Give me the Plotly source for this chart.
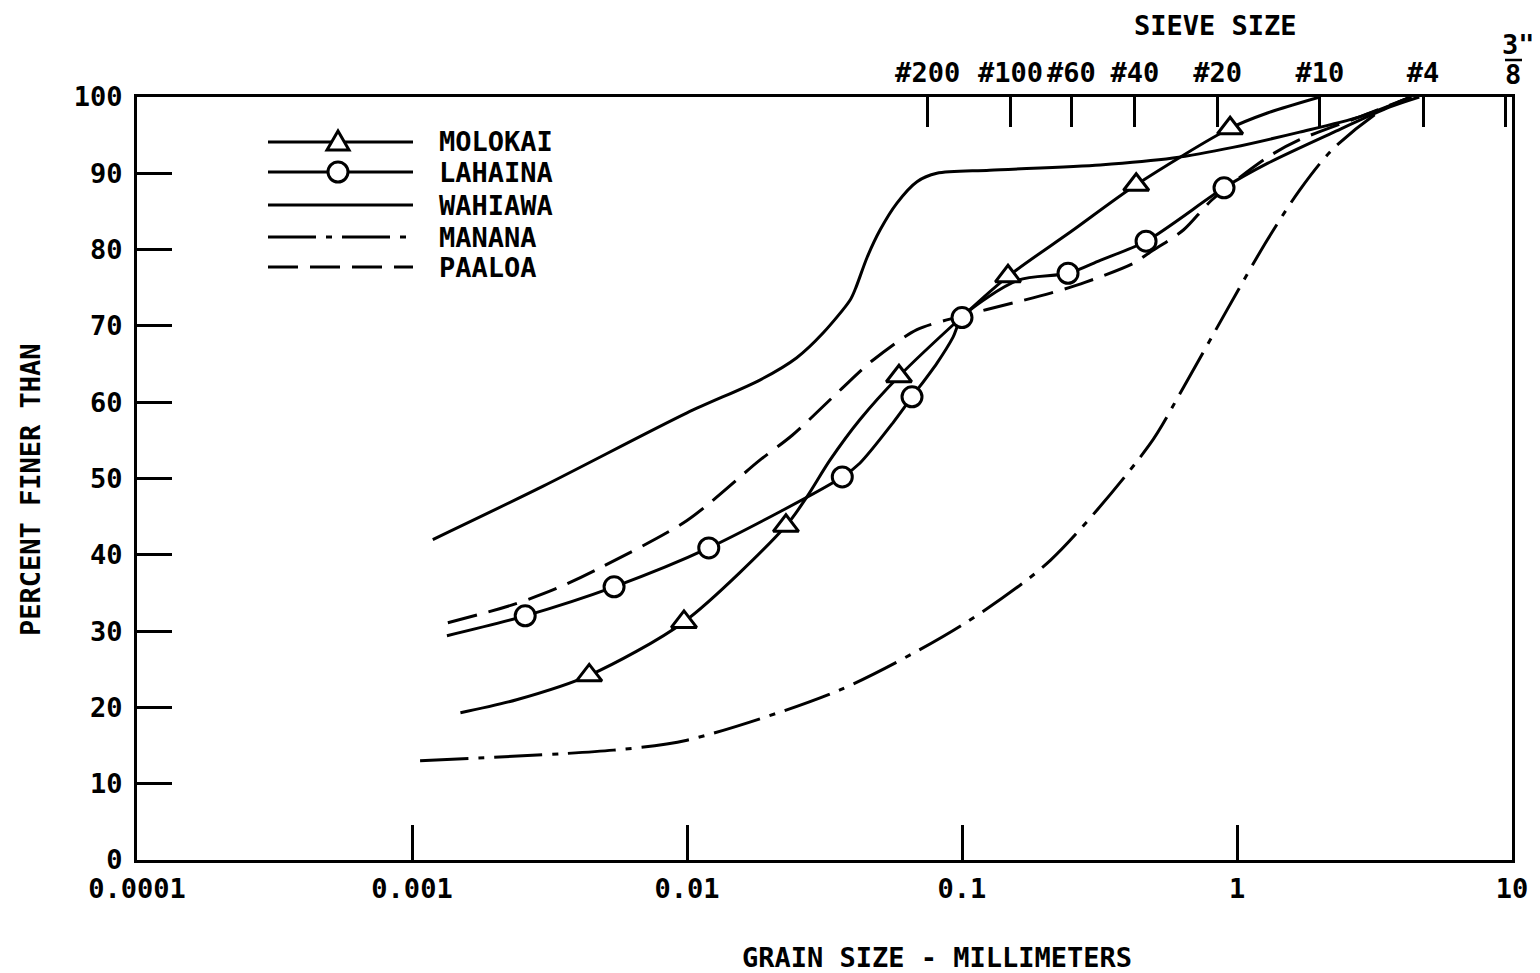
import plotly.graph_objects as go

# ---------------- data (grain size in mm, percent finer) ----------------
molokai_x = [0.0015, 0.0024, 0.00441, 0.00975, 0.0229, 0.0273, 0.0331, 0.0425, 0.059, 0.1, 0.147, 0.25, 0.43, 0.944, 1.29, 2.0]
molokai_y = [19.3, 21.0, 24.2, 31.2, 43.8, 47.6, 52.4, 57.7, 63.4, 71.2, 76.5, 82.4, 88.5, 95.9, 97.9, 100]
molokai_mx = [0.00441, 0.00975, 0.0229, 0.059, 0.147, 0.43, 0.944]
molokai_my = [24.2, 31.2, 43.8, 63.4, 76.5, 88.5, 95.9]

lahaina_x = [0.00134, 0.00258, 0.00543, 0.0120, 0.0367, 0.0425, 0.0561, 0.0658, 0.081, 0.0927, 0.1, 0.16, 0.243, 0.318, 0.467, 0.897, 1.29, 2.22, 3.6, 4.6]
lahaina_y = [29.4, 32.0, 35.8, 40.9, 50.2, 52.0, 57.3, 60.7, 65.1, 68.5, 71.1, 76.0, 76.9, 78.6, 81.1, 88.1, 91.3, 95.3, 98.7, 100]
lahaina_mx = [0.00258, 0.00543, 0.0120, 0.0367, 0.0658, 0.1, 0.243, 0.467, 0.897]
lahaina_my = [32.0, 35.8, 40.9, 50.2, 60.7, 71.1, 76.9, 81.1, 88.1]

wahiawa_x = [0.00119, 0.003, 0.01, 0.0184, 0.025, 0.0313, 0.0392, 0.041, 0.0452, 0.0504, 0.058, 0.0686, 0.081, 0.126, 0.318, 0.585, 0.966, 1.69, 2.79, 4.3]
wahiawa_y = [42.0, 49.0, 58.6, 62.9, 65.8, 69.1, 73.4, 74.9, 79.0, 82.6, 86.1, 88.9, 90.0, 90.4, 91.1, 92.0, 93.4, 95.4, 97.4, 100]

manana_x = [0.00107, 0.0054, 0.01, 0.036, 0.1, 0.21, 0.48, 0.64, 0.92, 1.29, 1.69, 2.22, 3.36, 4.3]
manana_y = [13.0, 14.4, 15.7, 22.3, 30.8, 39.3, 54.4, 62.0, 72.1, 81.3, 87.8, 93.1, 98.3, 100]

paaloa_x = [0.00135, 0.0023, 0.00336, 0.00483, 0.01, 0.0184, 0.0242, 0.0361, 0.0474, 0.0686, 0.1, 0.153, 0.21, 0.28, 0.42, 0.48, 0.64, 0.81, 1.29, 1.69, 2.79, 4.3]
paaloa_y = [31.1, 33.4, 35.6, 38.3, 44.5, 52.4, 55.7, 61.6, 65.5, 69.5, 71.3, 73.0, 74.3, 75.7, 78.2, 79.6, 82.6, 86.5, 92.1, 94.4, 97.4, 100]

x_tickvals = [0.0001, 0.001, 0.01, 0.1, 1, 10]
x_ticktext = ["0.0001", "0.001", "0.01", "0.1", "1", "10"]
y_tickvals = [0, 10, 20, 30, 40, 50, 60, 70, 80, 90, 100]
sieve_mm = [0.075, 0.15, 0.25, 0.425, 0.85, 2.0, 4.75, 9.5]
sieve_text = ["#200", "#100", "#60", "#40", "#20", "#10", "#4", ""]

legend_names = ["MOLOKAI", "LAHAINA", "WAHIAWA", "MANANA", "PAALOA"]

# ---------------- styling ----------------
FONT = "DejaVu Sans Mono, Liberation Mono, monospace"
FS = 27
LW = 3
OFF = 8                      # default page body margin
W, H = 1540 - OFF, 973 - OFF
PL, PT, PWID, PHGT = 137, 97, 1375, 763   # plot area in page pixels
ML, MT = PL - OFF, PT - OFF
MR = W - ML - PWID
MB = H - MT - PHGT

def px(xp):
    return (xp - PL) / PWID

def py(yp):
    return (PT + PHGT - yp) / PHGT

dash_manana = "48px,10px,6px,10px"
dash_paaloa = "30px,12px"

fig = go.Figure()

def curve(x, y, dash="solid"):
    fig.add_trace(go.Scatter(x=x, y=y, mode="lines", line=dict(color="black", width=LW, dash=dash,
                                                               shape="spline", smoothing=0.8),
                             showlegend=False, hoverinfo="skip"))

curve(wahiawa_x, wahiawa_y)
curve(manana_x, manana_y, dash_manana)
curve(paaloa_x, paaloa_y, dash_paaloa)
curve(lahaina_x, lahaina_y)
curve(molokai_x, molokai_y)

fig.add_trace(go.Scatter(x=lahaina_mx, y=lahaina_my, mode="markers",
                         marker=dict(symbol="circle", size=20, color="white",
                                     line=dict(color="black", width=3)),
                         showlegend=False, hoverinfo="skip"))
fig.add_trace(go.Scatter(x=molokai_mx, y=molokai_my, mode="markers",
                         marker=dict(symbol="triangle-up", size=22, color="white",
                                     line=dict(color="black", width=3)),
                         showlegend=False, hoverinfo="skip"))

# dummy trace to anchor the top sieve axis
fig.add_trace(go.Scatter(x=sieve_mm, y=[None] * len(sieve_mm), xaxis="x2", mode="lines",
                         showlegend=False, hoverinfo="skip"))

tickfont = dict(family=FONT, size=FS, color="black", weight="bold")

fig.update_layout(
    width=W, height=H,
    margin=dict(l=ML, r=MR, t=MT, b=MB),
    paper_bgcolor="white", plot_bgcolor="white",
    font=dict(family=FONT, size=FS, color="black"),
    showlegend=False,
    xaxis=dict(type="log", range=[-4, 1], tickvals=x_tickvals, ticktext=x_ticktext,
               ticks="inside", ticklen=35, tickwidth=2.5, tickcolor="black",
               ticklabelstandoff=3,
               showline=True, linewidth=3, linecolor="black", mirror=True,
               showgrid=False, zeroline=False, tickfont=tickfont),
    xaxis2=dict(type="log", range=[-4, 1], overlaying="x", side="top",
                tickvals=sieve_mm, ticktext=sieve_text,
                ticks="inside", ticklen=30, tickwidth=2.5, tickcolor="black",
                ticklabelstandoff=9,
                showline=False, showgrid=False, zeroline=False, tickfont=tickfont),
    yaxis=dict(range=[0, 100], tickvals=y_tickvals,
               ticks="inside", ticklen=35, tickwidth=2.5, tickcolor="black",
               ticklabelstandoff=6,
               showline=True, linewidth=3, linecolor="black", mirror=True,
               showgrid=False, zeroline=False, tickfont=tickfont),
)

ann = []
ann.append(dict(text="SIEVE SIZE", x=px(1215), y=py(25), xref="paper", yref="paper",
                showarrow=False, xanchor="center", yanchor="middle", font=tickfont))
ann.append(dict(text='3"', x=px(1518), y=py(44), xref="paper", yref="paper",
                showarrow=False, xanchor="center", yanchor="middle", font=tickfont))
ann.append(dict(text="8", x=px(1513), y=py(75), xref="paper", yref="paper",
                showarrow=False, xanchor="center", yanchor="middle", font=tickfont))
ann.append(dict(text="GRAIN SIZE - MILLIMETERS", x=px(937), y=py(957), xref="paper", yref="paper",
                showarrow=False, xanchor="center", yanchor="middle", font=tickfont))
ann.append(dict(text="PERCENT FINER THAN", x=px(30), y=py(490), xref="paper", yref="paper",
                showarrow=False, xanchor="center", yanchor="middle", textangle=-90, font=tickfont))

shapes = []
shapes.append(dict(type="line", xref="paper", yref="paper", x0=px(1505), x1=px(1522),
                   y0=py(60), y1=py(60), line=dict(color="black", width=2.5)))

# manual legend
rows = [142, 172, 205, 237, 267]
dashes = ["solid", "solid", "solid", dash_manana, dash_paaloa]
for name, r, d in zip(legend_names, rows, dashes):
    shapes.append(dict(type="line", xref="paper", yref="paper", x0=px(268), x1=px(413),
                       y0=py(r), y1=py(r), line=dict(color="black", width=LW, dash=d)))
    ann.append(dict(text=name, x=px(437), y=py(r), xref="paper", yref="paper",
                    showarrow=False, xanchor="left", yanchor="middle", font=tickfont))

mx = 338
r0 = rows[0]
shapes.append(dict(type="path", xref="paper", yref="paper",
                   path=f"M {px(mx-11)},{py(r0+8)} L {px(mx+11)},{py(r0+8)} L {px(mx)},{py(r0-11)} Z",
                   fillcolor="white", line=dict(color="black", width=3)))
r1 = rows[1]
shapes.append(dict(type="circle", xref="paper", yref="paper",
                   x0=px(mx-10), x1=px(mx+10), y0=py(r1+10), y1=py(r1-10),
                   fillcolor="white", line=dict(color="black", width=3)))

fig.update_layout(annotations=ann, shapes=shapes)

fig.write_html("out.html")
